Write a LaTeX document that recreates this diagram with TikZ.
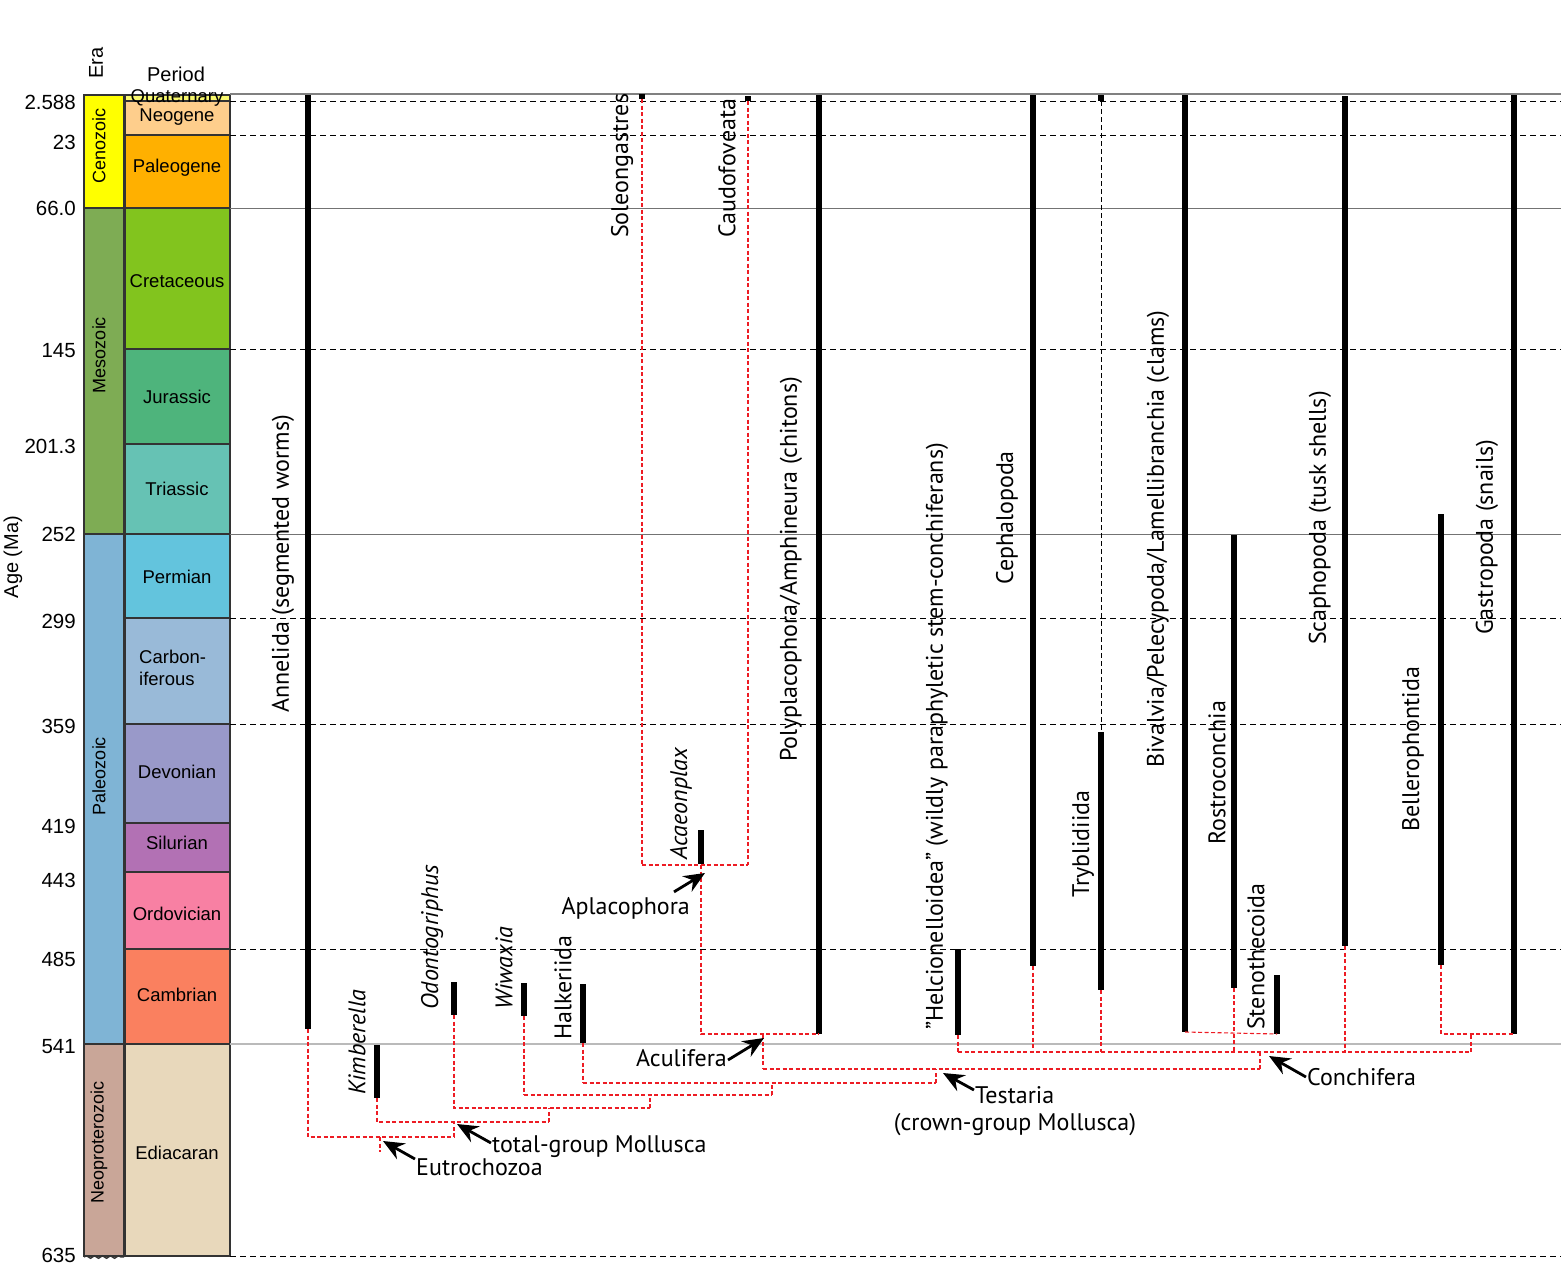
\documentclass[tikz,border=0pt]{standalone}
\usepackage{fontspec}
\setmainfont{Liberation Sans}
\newfontfamily\cladefont{PT Sans}
\usetikzlibrary{arrows.meta,decorations.pathmorphing}

\definecolor{cenoz}{RGB}{255,255,0}
\definecolor{mesoz}{RGB}{126,172,84}
\definecolor{paleoz}{RGB}{127,180,213}
\definecolor{neopro}{RGB}{201,166,152}
\definecolor{quat}{RGB}{249,249,110}
\definecolor{neog}{RGB}{254,206,140}
\definecolor{paleog}{RGB}{255,176,0}
\definecolor{cret}{RGB}{130,196,30}
\definecolor{jura}{RGB}{78,180,124}
\definecolor{tria}{RGB}{102,194,180}
\definecolor{perm}{RGB}{99,196,221}
\definecolor{carb}{RGB}{153,186,216}
\definecolor{devo}{RGB}{153,153,201}
\definecolor{silu}{RGB}{178,113,180}
\definecolor{ordo}{RGB}{248,128,163}
\definecolor{camb}{RGB}{250,128,95}
\definecolor{edia}{RGB}{232,216,187}
\definecolor{treered}{RGB}{237,28,36}

\tikzset{
  cell/.style={draw=black!80, line width=1.6pt},
  agelbl/.style={anchor=east, inner sep=0pt, font=\fontsize{20.5}{24}\selectfont},
  perlbl/.style={inner sep=0pt, font=\fontsize{18.5}{22}\selectfont},
  eralbl/.style={rotate=90, inner sep=0pt, font=\fontsize{18}{22}\selectfont},
  boundary/.style={dash pattern=on 6pt off 4pt, line width=1pt},
  taxon/.style={line width=6pt},
  clade/.style={rotate=90, anchor=west, inner sep=0pt, font=\cladefont\fontsize{24}{28}\selectfont},
  treeline/.style={treered, dash pattern=on 4pt off 2.5pt, line width=1.1pt},
  treebold/.style={treeline, line width=2.4pt},
  grouplbl/.style={inner sep=1pt, font=\cladefont\fontsize{24}{28}\selectfont},
  pointer/.style={line width=2.8pt, -{Stealth[length=21pt,width=18pt,inset=7pt]}}
}

\begin{document}
\begin{tikzpicture}[x=1pt, y=-1pt]
        \useasboundingbox (0,0) rectangle (1561,1274);

        % eras
        \draw [cell, fill=cenoz]  (84,95)   rectangle (124,208);           %Cenozoic
        \draw [cell, fill=mesoz]  (84,208)  rectangle (124,534);           %Mesozoic
        \draw [cell, fill=paleoz] (84,534)  rectangle (124,1044);          %Paleozoic
        \draw [cell, fill=neopro] (84,1044) rectangle (124,1256);          %Neoproterozoic
        \draw [black!80, line width=1.4pt, decorate,
               decoration={snake, amplitude=1.3pt, segment length=8pt}] (84,1257) -- (124,1257);
        \node [eralbl] (cenozoic) at (99,146)  {Cenozoic};
        \node [eralbl] (mesozoic) at (99,355)  {Mesozoic};
        \node [eralbl] (paleozoic) at (99,776) {Paleozoic};
        \node [eralbl] (neoprot) at (99,1142)  {Neoproterozoic};

        % periods
        \draw [cell, fill=quat]   (125,95)   rectangle (230,101);          %Quaternary
        \draw [cell, fill=neog]   (125,101)  rectangle (230,135);          %Neogene
        \draw [cell, fill=paleog] (125,135)  rectangle (230,208);          %Paleogene
        \draw [cell, fill=cret]   (125,208)  rectangle (230,349);          %Cretaceous
        \draw [cell, fill=jura]   (125,349)  rectangle (230,444);          %Jurassic
        \draw [cell, fill=tria]   (125,444)  rectangle (230,534);          %Triassic
        \draw [cell, fill=perm]   (125,534)  rectangle (230,618);          %Permian
        \draw [cell, fill=carb]   (125,618)  rectangle (230,724);          %Carboniferous
        \draw [cell, fill=devo]   (125,724)  rectangle (230,823);          %Devonian
        \draw [cell, fill=silu]   (125,823)  rectangle (230,872);          %Silurian
        \draw [cell, fill=ordo]   (125,872)  rectangle (230,949);          %Ordovician
        \draw [cell, fill=camb]   (125,949)  rectangle (230,1044);         %Cambrian
        \draw [cell, fill=edia]   (125,1044) rectangle (230,1256);         %Ediacaran
        \node [perlbl] (quaternary) at (177,98)  {Quaternary};
        \node [perlbl] (neogene) at (177,117)    {Neogene};
        \node [perlbl] (paleogene) at (177,168)  {Paleogene};
        \node [perlbl] (cretaceous) at (177,281) {Cretaceous};
        \node [perlbl] (jurassic) at (177,397)   {Jurassic};
        \node [perlbl] (triassic) at (177,489)   {Triassic};
        \node [perlbl] (permian) at (177,577)    {Permian};
        \node [perlbl, anchor=west, align=left] (carbonif) at (139,668) {Carbon-\\iferous};
        \node [perlbl] (devonian) at (177,772)   {Devonian};
        \node [perlbl] (silurian) at (177,843)   {Silurian};
        \node [perlbl] (ordovician) at (177,914) {Ordovician};
        \node [perlbl] (cambrian) at (177,995)   {Cambrian};
        \node [perlbl] (ediacaran) at (177,1153) {Ediacaran};

        % headings and ages
        \node [eralbl, font=\fontsize{20}{24}\selectfont] (erahead) at (96,63) {Era};
        \node [perlbl, font=\fontsize{20}{24}\selectfont] (perhead) at (176,74) {Period};
        \node [eralbl, font=\fontsize{20}{24}\selectfont] (agehead) at (13,557) {Age (Ma)};
        \node [agelbl] (a0)  at (76,102)  {2.588};
        \node [agelbl] (a1)  at (76,142)  {23};
        \node [agelbl] (a2)  at (76,208)  {66.0};
        \node [agelbl] (a3)  at (76,351)  {145};
        \node [agelbl] (a4)  at (76,446)  {201.3};
        \node [agelbl] (a5)  at (76,534)  {252};
        \node [agelbl] (a6)  at (76,621)  {299};
        \node [agelbl] (a7)  at (76,726)  {359};
        \node [agelbl] (a8)  at (76,826)  {419};
        \node [agelbl] (a9)  at (76,880)  {443};
        \node [agelbl] (a10) at (76,959)  {485};
        \node [agelbl] (a11) at (76,1047) {541};
        \node [agelbl] (a12) at (76,1255) {635};

        % boundaries across the chart
        \draw [black!50, line width=2.4pt] (230,94)   -- (1561,94);       %0
        \draw [boundary]                   (230,101)  -- (1561,101);      %2.588
        \draw [boundary]                   (230,135)  -- (1561,135);      %23
        \draw [black!55, line width=1pt]   (230,208)  -- (1561,208);      %66
        \draw [boundary]                   (230,349)  -- (1561,349);      %145
        \draw [black!55, line width=1pt]   (230,534)  -- (1561,534);      %252
        \draw [boundary]                   (230,618)  -- (1561,618);      %299
        \draw [boundary]                   (230,724)  -- (1561,724);      %359
        \draw [boundary]                   (230,949)  -- (1561,949);      %485
        \draw [black!27, line width=2.4pt] (230,1044) -- (1561,1044);     %541
        \draw [boundary]                   (230,1256) -- (1561,1256);     %635

        % ranges
        \draw [taxon] (308,95)   -- (308,1029)  coordinate (bAnne);      %Annelida
        \draw [taxon] (377,1045) -- (377,1098)  coordinate (bKimb);      %Kimberella
        \draw [taxon] (454,982)  -- (454,1015)  coordinate (bOdon);      %Odontogriphus
        \draw [taxon] (524,983)  -- (524,1016)  coordinate (bWiwa);      %Wiwaxia
        \draw [taxon] (583,984)  -- (583,1043)  coordinate (bHalk);      %Halkeriida
        \fill (639,94) rectangle (645,99)       coordinate (bSole);      %Soleongastres
        \fill (745,96) rectangle (751,101)      coordinate (bCaud);      %Caudofoveata
        \draw [taxon] (701,830)  -- (701,864)   coordinate (bAcae);      %Acaeonplax
        \draw [taxon] (819,95)   -- (819,1034)  coordinate (bPoly);      %Polyplacophora
        \draw [taxon] (958,949)  -- (958,1035)  coordinate (bHelc);      %Helcionelloidea
        \draw [taxon] (1033,95)  -- (1033,966)  coordinate (bCeph);      %Cephalopoda
        \fill (1098,95) rectangle (1104,101)    coordinate (bTryt);      %Tryblidiida, top
        \draw [taxon] (1101,732) -- (1101,990)  coordinate (bTryb);      %Tryblidiida
        \draw [taxon] (1185,95)  -- (1185,1032) coordinate (bBiva);      %Bivalvia
        \draw [taxon] (1234,535) -- (1234,988)  coordinate (bRost);      %Rostroconchia
        \draw [taxon] (1277,975) -- (1277,1034) coordinate (bSten);      %Stenothecoida
        \draw [taxon] (1345,96)  -- (1345,946)  coordinate (bScap);      %Scaphopoda
        \draw [taxon] (1441,514) -- (1441,965)  coordinate (bBell);      %Bellerophontida
        \draw [taxon] (1514,95)  -- (1514,1034) coordinate (bGast);      %Gastropoda

        % tree
        \coordinate (nAplac) at (701,865);
        \coordinate (nAcul)  at (763,1035);
        \coordinate (nTest)  at (936,1069);
        \coordinate (nConch) at (1260,1069);
        \draw [treeline] (bAnne) |- (454,1137);                          %Annelida
        \draw [treeline] (380,1137) -- (380,1152);                       %Eutrochozoa
        \draw [treebold] (454,1137) -- (454,1122);                       %
        \draw [treeline] (bKimb) |- (549,1122);                          %Kimberella
        \draw [treeline] (549,1122) -- (549,1108);                       %
        \draw [treebold] (bOdon) |- (650,1108);                          %Odontogriphus
        \draw [treeline] (650,1108) -- (650,1095);                       %
        \draw [treeline] (bWiwa) -- (524,1095);                          %Wiwaxia
        \draw [treebold] (524,1095) -- (772,1095);                       %
        \draw [treeline] (772,1095) -- (772,1083);                       %
        \draw [treeline] (bHalk) -- (583,1083);                          %Halkeriida
        \draw [treebold] (583,1083) -- (936,1083);                       %
        \draw [treeline] (936,1083) -- (nTest);                          %Testaria
        \draw [treeline] (642,99) -- (642,865);                          %Soleongastres
        \draw [treeline] (748,101) -- (748,865);                         %Caudofoveata
        \draw [treebold] (642,865) -- (748,865);                         %
        \draw [treeline] (nAplac) |- (bPoly);                            %Aplacophora
        \draw [treeline] (nAcul) -- (763,1069);                          %Aculifera
        \draw [treebold] (763,1069) -- (nConch);                         %
        \draw [treebold] (nConch) -- (1260,1052);                        %Conchifera
        \draw [treeline] (958,1052) -- (1471,1052);                      %
        \draw [treebold] (bHelc) -- (958,1052);                          %
        \draw [treeline] (bCeph) -- (1033,1052);                         %
        \draw [black, dash pattern=on 5pt off 3pt, line width=0.9pt] (1101,101) -- (1101,732);
        \draw [treeline] (bTryb) -- (1101,1052);                         %
        \draw [treeline] (bBiva) -- (bSten);                             %
        \draw [treeline] (bRost) -- (1234,1052);                         %
        \draw [treeline] (bScap) -- (1345,1052);                         %
        \draw [treebold] (1471,1052) -- (1471,1035);                     %
        \draw [treeline] (bBell) |- (bGast);                             %

        % taxon names
        \node [clade] (annelida) at (283,713)    {Annelida (segmented worms)};
        \node [clade] (kimberella) at (357,1095) {\itshape Kimberella};
        \node [clade] (odonto) at (432,1010)     {\itshape Odontogriphus};
        \node [clade] (wiwaxia) at (504,1010)    {\itshape Wiwaxia};
        \node [clade] (halkeriida) at (563,1040) {Halkeriida};
        \node [clade] (soleon) at (622,238)      {Soleongastres};
        \node [clade] (caudo) at (727,238)       {Caudofoveata};
        \node [clade] (acaeon) at (681,860)      {\itshape Acaeonplax};
        \node [clade] (polypl) at (791,762)      {Polyplacophora/Amphineura (chitons)};
        \node [clade] (helcion) at (937,1030)    {”Helcionelloidea” (wildly paraphyletic stem-conchiferans)};
        \node [clade] (cephal) at (1007,585)     {Cephalopoda};
        \node [clade] (tryblid) at (1083,898)    {Tryblidiida};
        \node [clade] (bivalv) at (1158,768)     {Bivalvia/Pelecypoda/Lamellibranchia (clams)};
        \node [clade] (rostro) at (1217,845)     {Rostroconchia};
        \node [clade] (steno) at (1256,1030)     {Stenothecoida};
        \node [clade] (scapho) at (1320,645)     {Scaphopoda (tusk shells)};
        \node [clade] (belle) at (1413,832)      {Bellerophontida};
        \node [clade] (gastro) at (1487,635)     {Gastropoda (snails)};

        % groups
        \node [grouplbl, anchor=west] (lEutro) at (415,1167)  {Eutrochozoa};
        \node [grouplbl, anchor=west] (lTotal) at (491,1147)  {total-group Mollusca};
        \node [grouplbl, anchor=east] (lAcul)  at (728,1058)  {Aculifera};
        \node [grouplbl, anchor=east] (lAplac) at (691,908)   {Aplacophora};
        \node [grouplbl, anchor=west] (lTest)  at (974,1095)  {Testaria};
        \node [grouplbl] (lCrown) at (1015,1125)              {(crown-group Mollusca)};
        \node [grouplbl, anchor=west] (lConch) at (1306,1077) {Conchifera};
        \coordinate (aEutro) at (383,1141);
        \coordinate (aTotal) at (457,1124);
        \coordinate (aAcul)  at (764,1038);
        \coordinate (aAplac) at (705,873);
        \coordinate (aTest)  at (943,1073);
        \coordinate (aConch) at (1269,1056);
        \draw [pointer] ([yshift=8pt]lEutro.west) -- (aEutro);
        \draw [pointer] ([yshift=4pt]lTotal.west) -- (aTotal);
        \draw [pointer] ([yshift=-2pt]lAcul.east) -- (aAcul);
        \draw [pointer] ([xshift=-17pt,yshift=4pt]lAplac.north east) -- (aAplac);
        \draw [pointer] ([yshift=5pt]lTest.west) -- (aTest);
        \draw [pointer] (lConch.west) -- (aConch);
\end{tikzpicture}
\end{document}
